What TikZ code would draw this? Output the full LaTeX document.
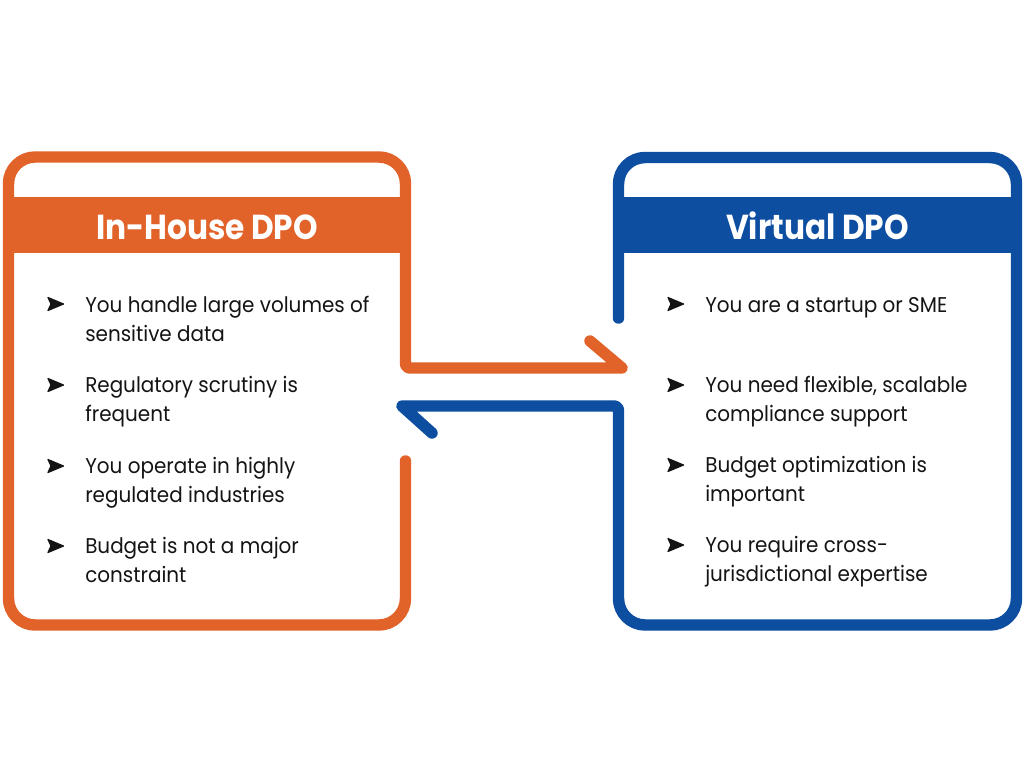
\documentclass[tikz,border=0pt]{standalone}
\usepackage{fontspec}
\setmainfont{Poppins}
\newfontfamily\titlefont{Poppins}[FakeStretch=0.9]
\newfontfamily\bodyfont{Poppins}[FakeStretch=0.935]
\definecolor{dpoorange}{RGB}{225,99,42}
\definecolor{dpoblue}{RGB}{13,78,161}
\definecolor{dpotext}{RGB}{20,20,20}
\begin{document}
\begin{tikzpicture}[x=0.75pt,y=-0.75pt,
  frame/.style={line width=8.6pt, line cap=round, line join=round},
  headtext/.style={text=white, anchor=base, inner sep=0pt, font=\titlefont\fontsize{26}{30}\selectfont\bfseries},
  item/.style={anchor=base west, align=left, inner sep=0pt, text=dpotext, font=\bodyfont\fontsize{16}{21.75}\selectfont},
  bul/.pic={\filldraw[dpotext, line width=0.9pt, line join=round] (-7.5,-6.5) -- (8,0) -- (-7.5,6.5) -- (-4.5,0) -- cycle;}
]
\useasboundingbox (0,0) rectangle (1024,782);
% orange box + arrow
\coordinate (oS) at (405.5,461);
\coordinate (oBR) at (405.5,625);
\coordinate (oBL) at (8.5,625);
\coordinate (oTL) at (8.5,157);
\coordinate (oTR) at (405.5,157);
\coordinate (oK) at (405.5,368);
\coordinate (oTip) at (622,368);
\coordinate (oBarb) at (590,341);
\draw[frame, dpoorange, rounded corners=20] (oS) -- (oBR) -- (oBL) -- (oTL) -- (oTR) [rounded corners=3] -- (oK) [sharp corners] -- (oTip) -- (oBarb);
\fill[dpoorange] (3,197) rectangle (411,253);
% blue box + arrow
\coordinate (bS) at (618.5,318);
\coordinate (bTL) at (618.5,157.5);
\coordinate (bTR) at (1016.5,157.5);
\coordinate (bBR) at (1016.5,625);
\coordinate (bBL) at (618.5,625);
\coordinate (bK) at (618.5,406);
\coordinate (bTip) at (402,406);
\coordinate (bBarb) at (432,433);
\draw[frame, dpoblue, rounded corners=20] (bS) -- (bTL) -- (bTR) -- (bBR) -- (bBL) [rounded corners=3] -- (bK) [sharp corners] -- (bTip) -- (bBarb);
\fill[dpoblue] (613,197) rectangle (1022,253);
% headers
\node[headtext] (hL) at (207,239) {In-House DPO};
\node[headtext] (hR) at (817.5,239) {Virtual DPO};
% left items (base anchor = last line baseline)
\pic at (55.5,304) {bul};
\node[item] (l1) at (85,341) {You handle large volumes of\\sensitive data};
\pic at (55.5,385) {bul};
\node[item] (l2) at (85,421) {Regulatory scrutiny is\\frequent};
\pic at (55.5,466) {bul};
\node[item] (l3) at (85,502) {You operate in highly\\regulated industries};
\pic at (55.5,546) {bul};
\node[item] (l4) at (85,582) {Budget is not a major\\constraint};
% right items
\pic at (675.5,304) {bul};
\node[item] (r1) at (705,312) {You are a startup or SME};
\pic at (675.5,385) {bul};
\node[item] (r2) at (705,421) {You need flexible, scalable\\compliance support};
\pic at (675.5,465) {bul};
\node[item] (r3) at (705,501) {Budget optimization is\\important};
\pic at (675.5,545) {bul};
\node[item] (r4) at (705,581) {You require cross-\\jurisdictional expertise};
\end{tikzpicture}
\end{document}
